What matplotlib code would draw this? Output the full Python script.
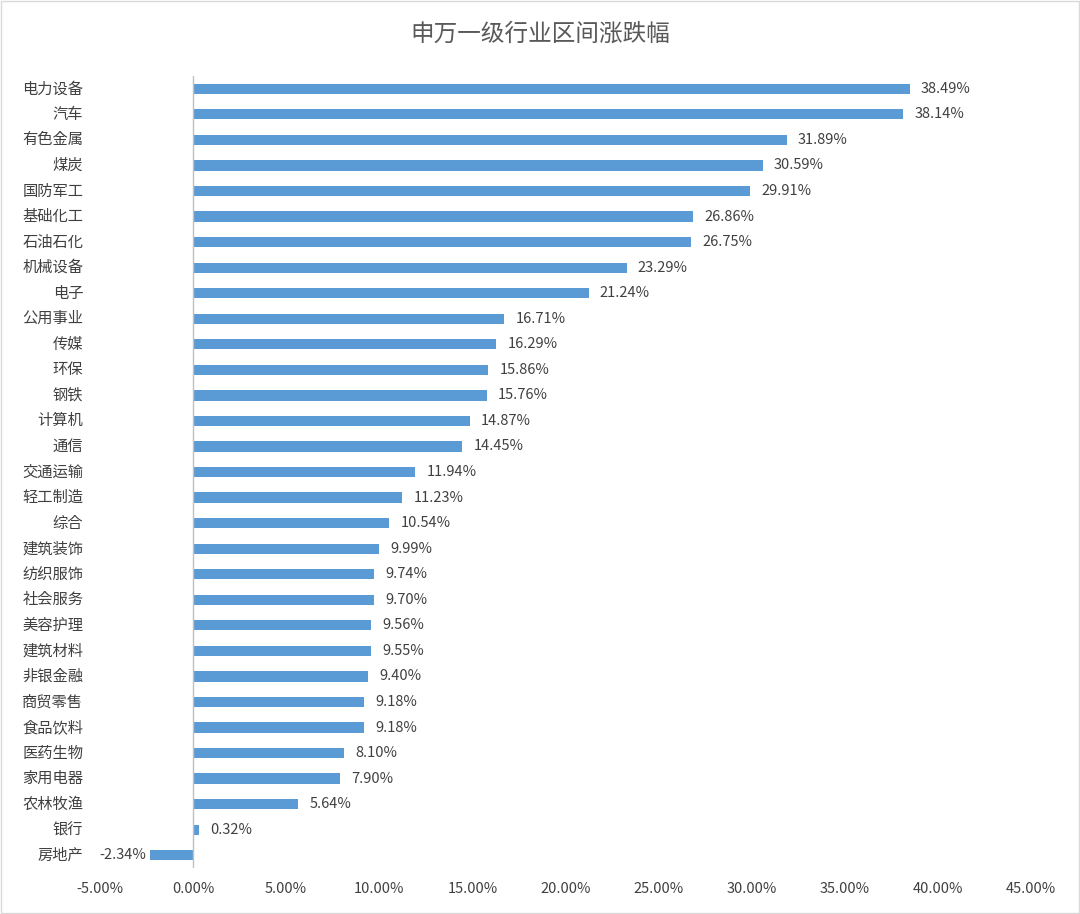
import matplotlib
matplotlib.use("Agg")
import matplotlib.pyplot as plt
from matplotlib import font_manager
from matplotlib.patches import Rectangle

cjk = [f.name for f in font_manager.fontManager.ttflist if "CJK" in f.name]
pref = [n for n in ["Noto Sans CJK SC", "Noto Sans CJK JP", "Noto Sans CJK TC", "Noto Sans CJK KR"] if n in cjk]
plt.rcParams["font.family"] = pref + cjk[:1] + ["DejaVu Sans"]

industries = ["电力设备", "汽车", "有色金属", "煤炭", "国防军工", "基础化工", "石油石化",
              "机械设备", "电子", "公用事业", "传媒", "环保", "钢铁", "计算机", "通信",
              "交通运输", "轻工制造", "综合", "建筑装饰", "纺织服饰", "社会服务", "美容护理",
              "建筑材料", "非银金融", "商贸零售", "食品饮料", "医药生物", "家用电器",
              "农林牧渔", "银行", "房地产"]
changes = [38.49, 38.14, 31.89, 30.59, 29.91, 26.86, 26.75, 23.29, 21.24, 16.71, 16.29,
           15.86, 15.76, 14.87, 14.45, 11.94, 11.23, 10.54, 9.99, 9.74, 9.70, 9.56, 9.55,
           9.40, 9.18, 9.18, 8.10, 7.90, 5.64, 0.32, -2.34]
xticks = [-5, 0, 5, 10, 15, 20, 25, 30, 35, 40, 45]

txt = "#404040"
fig = plt.figure(figsize=(10.8, 9.14), dpi=100)
fig.patches.append(Rectangle((0.001, 0.001), 0.998, 0.998, transform=fig.transFigure,
                             fill=False, edgecolor="#d9d9d9", lw=1))
ax = fig.add_axes([0.0926, 0.0503, 0.862, 0.8665])

y = list(range(len(industries)))[::-1]
ax.barh(y, changes, height=0.4, color="#5B9BD5", zorder=2)
for yi, v in zip(y, changes):
    if v >= 0:
        ax.text(v + 0.6, yi, f"{v:.2f}%", va="center", ha="left", fontsize=10.5, color=txt)
    else:
        ax.text(v - 0.2, yi, f"{v:.2f}%", va="center", ha="right", fontsize=10.5, color=txt)

ax.set_xlim(-5, 45)
ax.set_ylim(-0.5, len(industries) - 0.5)
ax.set_xticks(xticks)
ax.set_xticklabels([f"{t:.2f}%" for t in xticks], fontsize=10.5, color=txt)
ax.set_yticks([])
ax.axvline(0, color="#bfbfbf", lw=1, zorder=3)
for yi, name in zip(y, industries):
    ax.text(-5.9, yi, name, va="center", ha="right", fontsize=11, color=txt)
for s in ax.spines.values():
    s.set_visible(False)
ax.tick_params(axis="x", length=0, pad=10)

fig.text(0.5, 0.962, "申万一级行业区间涨跌幅", ha="center", va="center", fontsize=17, color="#595959")
fig.savefig("out.png", dpi=100)
